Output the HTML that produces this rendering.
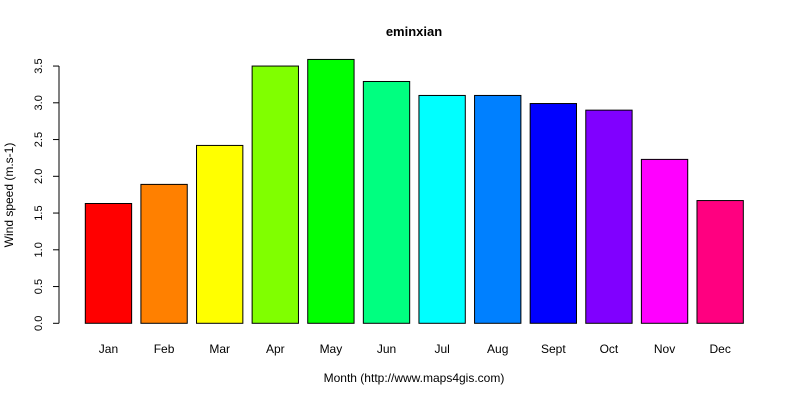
<!DOCTYPE html>
<html><head><meta charset="utf-8"><style>
body{margin:0;background:#fff}
svg{display:block;font-family:"Liberation Sans",Arial,sans-serif}
</style></head><body>
<svg id="chart" width="800" height="400" viewBox="0 0 800 400">
<text x="414" y="36" text-anchor="middle" font-size="13" font-weight="bold">eminxian</text>
<text x="414" y="382" text-anchor="middle" font-size="12">Month (http://www.maps4gis.com)</text>
<text transform="translate(13,195) rotate(-90)" text-anchor="middle" font-size="12">Wind speed (m.s-1)</text>
<g id="yaxis"></g>
<g id="bars"></g>
<g id="xlabels"></g>
</svg>
<script>
const months=["Jan","Feb","Mar","Apr","May","Jun","Jul","Aug","Sept","Oct","Nov","Dec"];
const speeds=[1.63,1.89,2.42,3.5,3.59,3.29,3.1,3.1,2.99,2.9,2.23,1.67];
const colors=["#FF0000","#FF8000","#FFFF00","#80FF00","#00FF00","#00FF80","#00FFFF","#0080FF","#0000FF","#8000FF","#FF00FF","#FF0080"];
const yTicks=[0,0.5,1,1.5,2,2.5,3,3.5];
const yTickLabels=["0.0","0.5","1.0","1.5","2.0","2.5","3.0","3.5"];
const NS="http://www.w3.org/2000/svg";
const y=v=>323.3-v*73.5;
const pxPerUnit=46.34;
const x=u=>85.3+(u-0.2)*pxPerUnit;
function mk(t,a){const e=document.createElementNS(NS,t);for(const k in a)e.setAttribute(k,a[k]);return e;}
const ya=document.getElementById('yaxis');
let ax=mk('line',{x1:59,x2:59,y1:y(yTicks[0]),y2:y(yTicks[yTicks.length-1]),stroke:'#000'});


ya.appendChild(ax);
yTicks.forEach((t,i)=>{
  const tk=mk('line',{x1:53,x2:59,y1:y(t),y2:y(t),stroke:'#000'});
  
  
  ya.appendChild(tk);
  const lb=mk('text',{transform:`translate(42,${y(t)}) rotate(-90)`,'text-anchor':'middle','font-size':'11'});
  
  
  lb.textContent=yTickLabels[i];
  ya.appendChild(lb);
});
const bg=document.getElementById('bars'),xl=document.getElementById('xlabels');
speeds.forEach((v,i)=>{
  const l=x(0.2+i*1.2),r=x(1.2+i*1.2);
  const b=mk('rect',{x:l,y:y(v),width:r-l,height:y(0)-y(v),fill:colors[i],stroke:'#000','stroke-width':1});
  
  
  bg.appendChild(b);
  const t=mk('text',{x:(l+r)/2,y:353,'text-anchor':'middle','font-size':'12'});
  
  
  t.textContent=months[i];
  xl.appendChild(t);
});
</script>
</body></html>
